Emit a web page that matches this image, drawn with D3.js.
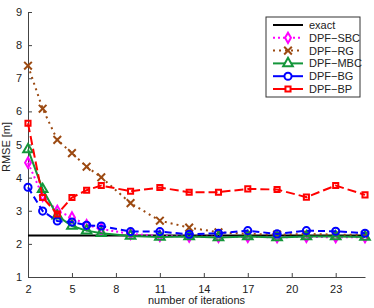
<!DOCTYPE html>
<html>
<head>
<meta charset="utf-8">
<script src="https://cdn.jsdelivr.net/npm/d3@7"></script>
<style>
  body { margin: 0; background: #fff; }
  svg { font-family: "Liberation Sans", Arial, sans-serif; }
</style>
</head>
<body>
<svg id="chart" width="374" height="308"></svg>
<script>
const iterations = [2, 3, 4, 5, 6, 7, 9, 11, 13, 15, 17, 19, 21, 23, 25];
const exactValue = 2.25;
const sbc = [4.45, 3.45, 3.0, 2.8, 2.57, 2.45, 2.3, 2.24, 2.22, 2.21, 2.21, 2.2, 2.21, 2.2, 2.2];
const rg = [7.38, 6.08, 5.14, 4.74, 4.33, 4.01, 3.23, 2.7, 2.49, 2.35, 2.3, 2.28, 2.3, 2.28, 2.27];
const mbc = [4.85, 3.65, 2.85, 2.54, 2.4, 2.32, 2.24, 2.21, 2.22, 2.19, 2.22, 2.19, 2.22, 2.22, 2.21];
const bg = [3.71, 2.99, 2.69, 2.66, 2.56, 2.54, 2.37, 2.37, 2.29, 2.32, 2.4, 2.3, 2.4, 2.38, 2.32];
const bp = [5.64, 3.4, 2.9, 3.4, 3.62, 3.76, 3.59, 3.7, 3.56, 3.56, 3.66, 3.64, 3.41, 3.76, 3.48];
const xTicks = [2, 5, 8, 11, 14, 17, 20, 23];
const yTicks = [1, 2, 3, 4, 5, 6, 7, 8, 9];

const margins = { top: 12, bottom: 31, left: 28, right: 9 };
const width = 374, height = 308;
const graphWidth = width - margins.left - margins.right;
const graphHeight = height - margins.top - margins.bottom;

const series = [
  { name: "DPF\u2212SBC", values: sbc, color: "#ff00ff", dash: "2,3", marker: "diamond" },
  { name: "DPF\u2212RG", values: rg, color: "#9c4a12", dash: "2,4", marker: "cross" },
  { name: "DPF\u2212MBC", values: mbc, color: "#14963a", dash: null, marker: "triangle" },
  { name: "DPF\u2212BG", values: bg, color: "#0000ff", dash: "7,4", marker: "circle" },
  { name: "DPF\u2212BP", values: bp, color: "#ff0000", dash: "9,4", marker: "square" }
];

const svg = d3.select("#chart");
const g = svg.append("g").attr("transform", `translate(${margins.left},${margins.top})`);

const scaleX = d3.scaleLinear().domain([2, 25]).range([0, graphWidth]);
const scaleY = d3.scaleLinear().domain([1, 9]).range([graphHeight, 0]);

// axes, matlab style ticks pointing inward
const xAxis = d3.axisBottom(scaleX).tickValues(xTicks).tickSizeInner(-4).tickSizeOuter(0).tickPadding(8);
const yAxis = d3.axisLeft(scaleY).tickValues(yTicks).tickSizeInner(-4).tickSizeOuter(0).tickPadding(6);

const gx = g.append("g").attr("transform", `translate(0,${graphHeight})`).call(xAxis);
const gy = g.append("g").call(yAxis);
[gx, gy].forEach((a) => {
  a.selectAll("path, line").attr("stroke", "#444");
  a.selectAll("text").attr("fill", "#222").style("font-size", "11px");
});

const symbolFor = {
  diamond: d3.symbol().type(d3.symbolDiamond).size(30),
  cross: d3.symbol().type(d3.symbolX).size(40),
  triangle: d3.symbol().type(d3.symbolTriangle).size(40),
  circle: d3.symbol().type(d3.symbolCircle).size(40),
  square: d3.symbol().type(d3.symbolSquare).size(26)
};

// exact line
g.append("line")
  .attr("x1", scaleX(2)).attr("x2", scaleX(25))
  .attr("y1", scaleY(exactValue)).attr("y2", scaleY(exactValue))
  .attr("stroke", "#000").attr("stroke-width", 2);

const line = d3.line().x((d) => scaleX(d[0])).y((d) => scaleY(d[1]));

series.forEach((s) => {
  const pts = iterations.map((it, i) => [it, s.values[i]]);
  g.append("path")
    .datum(pts)
    .attr("d", line)
    .attr("fill", "none")
    .attr("stroke", s.color)
    .attr("stroke-width", 2)
    .attr("stroke-dasharray", s.dash);
  g.selectAll(null)
    .data(pts)
    .enter()
    .append("path")
    .attr("d", symbolFor[s.marker])
    .attr("transform", (d) => `translate(${scaleX(d[0])},${scaleY(d[1])})`)
    .attr("fill", "none")
    .attr("stroke", s.color)
    .attr("stroke-width", 2);
});

// labels
svg.append("text")
  .attr("x", margins.left + graphWidth / 2)
  .attr("y", 304)
  .attr("text-anchor", "middle")
  .style("font-size", "11px")
  .attr("fill", "#222")
  .text("number of iterations");

svg.append("text")
  .attr("transform", `translate(10,${margins.top + 135}) rotate(-90)`)
  .attr("text-anchor", "middle")
  .style("font-size", "11px")
  .attr("fill", "#222")
  .text("RMSE [m]");

// legend
const legend = svg.append("g").attr("transform", "translate(266,17)");
legend.append("rect")
  .attr("width", 94).attr("height", 80)
  .attr("fill", "#fff").attr("stroke", "#333").attr("stroke-width", 1);

const legendItems = [{ name: "exact", color: "#000", dash: null, marker: null }].concat(series);
legendItems.forEach((s, i) => {
  const y = 8 + i * 12.8;
  const row = legend.append("g").attr("transform", `translate(0,${y})`);
  row.append("line")
    .attr("x1", 7).attr("x2", 37)
    .attr("stroke", s.color).attr("stroke-width", 2)
    .attr("stroke-dasharray", s.dash ? (s.marker === "square" || s.marker === "circle" ? null : s.dash) : null);
  if (s.marker) {
    row.append("path")
      .attr("d", symbolFor[s.marker])
      .attr("transform", "translate(22,0)")
      .attr("fill", "#fff")
      .attr("stroke", s.color)
      .attr("stroke-width", 2);
  }
  row.append("text")
    .attr("x", 43).attr("y", 4)
    .style("font-size", "11px")
    .attr("fill", "#222")
    .text(s.name);
});
</script>
</body>
</html>
